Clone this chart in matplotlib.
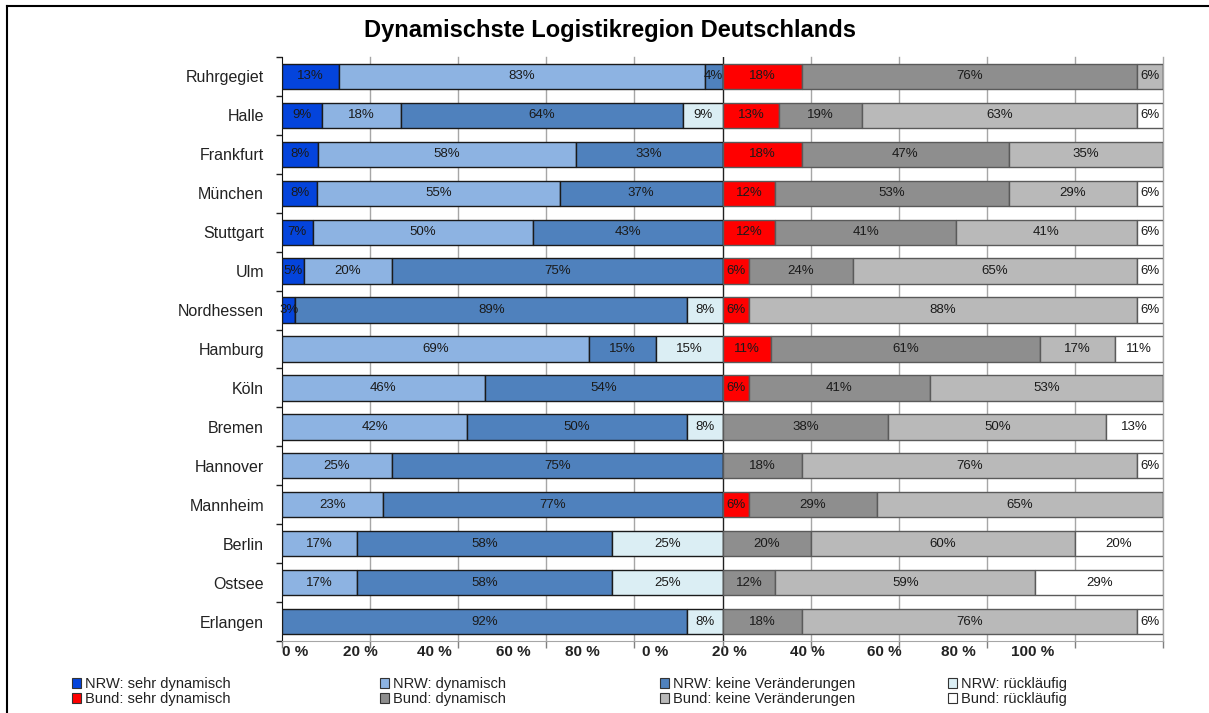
import numpy as np
import matplotlib
matplotlib.use("Agg")
from matplotlib import pyplot as plt
from matplotlib.lines import Line2D
from matplotlib.patches import Patch

plt.rcParams['font.family'] = ['Liberation Sans', 'DejaVu Sans']

# regions, top to bottom
regions = ['Ruhrgegiet', 'Halle', 'Frankfurt', 'München', 'Stuttgart', 'Ulm',
           'Nordhessen', 'Hamburg', 'Köln', 'Bremen', 'Hannover', 'Mannheim',
           'Berlin', 'Ostsee', 'Erlangen']

# NRW answers (%)
nrw_sehr = [13, 9, 8, 8, 7, 5, 3, 0, 0, 0, 0, 0, 0, 0, 0]
nrw_dyn = [83, 18, 58, 55, 50, 20, 0, 69, 46, 42, 25, 23, 17, 17, 0]
nrw_keine = [4, 64, 33, 37, 43, 75, 89, 15, 54, 50, 75, 77, 58, 58, 92]
nrw_rueck = [0, 9, 0, 0, 0, 0, 8, 15, 0, 8, 0, 0, 25, 25, 8]

# Bund answers (%)
bund_sehr = [18, 13, 18, 12, 12, 6, 6, 11, 6, 0, 0, 6, 0, 0, 0]
bund_dyn = [76, 19, 47, 53, 41, 24, 0, 61, 41, 38, 18, 29, 20, 12, 18]
bund_keine = [6, 63, 35, 29, 41, 65, 88, 17, 53, 50, 76, 65, 60, 59, 76]
bund_rueck = [0, 6, 0, 6, 6, 6, 6, 11, 0, 13, 6, 0, 20, 29, 6]

series_labels = ['NRW: sehr dynamisch', 'NRW: dynamisch', 'NRW: keine Veränderungen', 'NRW: rückläufig',
                 'Bund: sehr dynamisch', 'Bund: dynamisch', 'Bund: keine Veränderungen', 'Bund: rückläufig']

# x tick labels (the original's labels are offset from the grid)
xlabel_pos = [2.95, 17.7, 34.5, 52.4, 68.1, 84.7, 101.5, 119.2, 136.7, 153.5, 170.5]
xlabel_txt = ['0 %', '20 %', '40 %', '60 %', '80 %', '0 %', '20 %', '40 %', '60 %', '80 %', '100 %']

nrw = np.array([nrw_sehr, nrw_dyn, nrw_keine, nrw_rueck], dtype=float)
bund = np.array([bund_sehr, bund_dyn, bund_keine, bund_rueck], dtype=float)
# rounded labels don't always add to 100 -> scale each group to 100 for the bar widths
widths = np.vstack([nrw / nrw.sum(axis=0) * 100, bund / bund.sum(axis=0) * 100])
labels = np.vstack([nrw, bund])

colors = ['#0444dc', '#8db3e2', '#4f81bd', '#dbeef4', '#ff0000', '#8e8e8e', '#b9b9b9', '#ffffff']
edges = ['#1a1a1a'] * 4 + ['#5a5a5a'] * 4

fig = plt.figure(figsize=(12.09, 7.13), dpi=100)
ax = fig.add_axes([282/1209, 1-641/713, (1163-282)/1209, (641-57)/713])

y = np.arange(len(regions))
left = np.zeros(len(regions))
for w, lab, col, ec in zip(widths, labels, colors, edges):
    bars = ax.barh(y, w, left=left, height=0.65, color=col, edgecolor=ec, linewidth=1.0, zorder=3)
    for b, v in zip(bars, lab):
        if v > 0:
            ax.text(b.get_x() + b.get_width()/2, b.get_y() + b.get_height()/2, '%d%%' % v,
                    ha='center', va='center', fontsize=9.5, color='#1a1a1a', zorder=4)
    left += w

ax.set_xlim(0, 200)
ax.set_ylim(len(regions) - 0.5, -0.5)

# grid
for gx in np.arange(20, 201, 20):
    if gx == 100:
        ax.axvline(gx, color='#202020', lw=1.0, zorder=2)
    else:
        ax.axvline(gx, color='#a6a6a6', lw=1.0, zorder=1, clip_on=False)

ax.set_yticks(y)
ax.set_yticklabels(regions, fontsize=11.5, color='#222222')
ax.set_yticks(np.arange(-0.5, len(regions)), minor=True)
ax.tick_params(axis='y', which='major', length=0, pad=13)
ax.tick_params(axis='y', which='minor', length=4, width=1, color='#222222')

ax.set_xticks(xlabel_pos)
ax.set_xticklabels(xlabel_txt, fontsize=11, fontweight='bold', color='#222222')
ax.set_xticks(np.arange(0, 201, 20), minor=True)
ax.tick_params(axis='x', which='major', length=0, pad=3)
ax.tick_params(axis='x', which='minor', length=5, width=1, color='#808080')

for s in ['top', 'right']:
    ax.spines[s].set_visible(False)
ax.spines['left'].set_color('#111111')
ax.spines['bottom'].set_color('#a6a6a6')

fig.text(610/1209, 1-31/713, 'Dynamischste Logistikregion Deutschlands',
         ha='center', va='center', fontsize=17, fontweight='bold')

# legend: four columns of two entries
handles = [Patch(facecolor=c, edgecolor='#333333', linewidth=0.8) for c in colors]
col_x = [72, 380, 660, 948]
for i, cx in enumerate(col_x):
    lg = fig.legend([handles[i], handles[i+4]], [series_labels[i], series_labels[i+4]],
                    loc='upper left', bbox_to_anchor=(cx/1209, 1-677/713), frameon=False,
                    fontsize=10.5, handlelength=0.65, handleheight=0.65, handletextpad=0.25,
                    labelspacing=0.08, borderpad=0, borderaxespad=0)
    for t in lg.get_texts():
        t.set_color('#222222')

# figure frame (left and top)
fig.add_artist(Line2D([7/1209, 7/1209], [0, 1-6/713], color='black', lw=1.5))
fig.add_artist(Line2D([7/1209, 1208/1209], [1-6/713, 1-6/713], color='black', lw=1.5))

fig.savefig('out.png', dpi=100)
